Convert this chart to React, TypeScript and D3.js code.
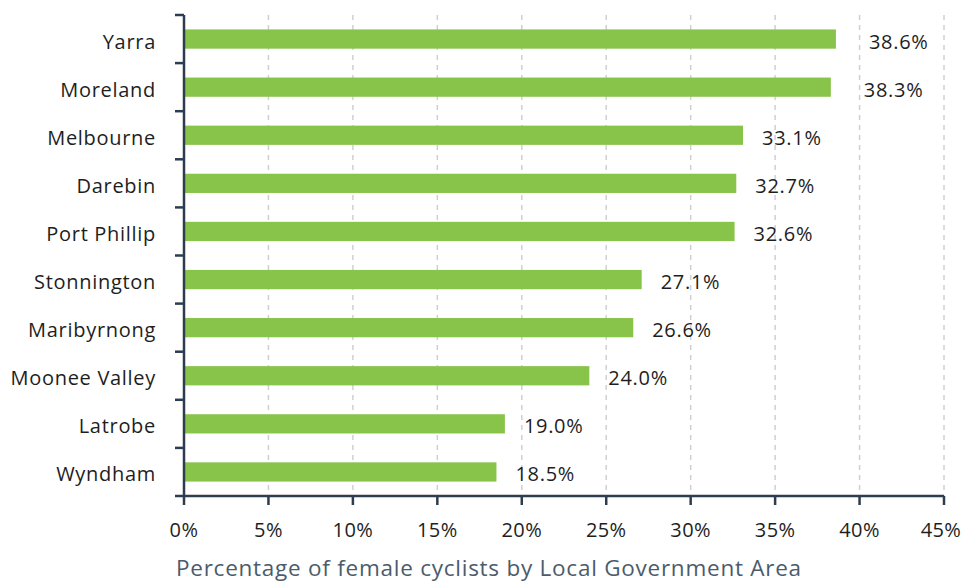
import React from "react";
import * as d3 from "d3";

const categories = ["Yarra", "Moreland", "Melbourne", "Darebin", "Port Phillip", "Stonnington", "Maribyrnong", "Moonee Valley", "Latrobe", "Wyndham"];
const values = [38.6, 38.3, 33.1, 32.7, 32.6, 27.1, 26.6, 24.0, 19.0, 18.5];
const xTicks = [0, 5, 10, 15, 20, 25, 30, 35, 40, 45];
const axisTitle = "Percentage of female cyclists by Local Government Area";

const W = 963;
const H = 582;
const left = 184;
const right = 944;
const top = 15;
const bottom = 496;
const FONT = "'Open Sans', Lato, sans-serif";
const AXIS = "#2d3c4e";
const LS = 0.7;

export default function App() {
  const x = d3.scaleLinear().domain([0, 45]).range([left, right]);
  const y = d3.scaleBand<string>().domain(categories).range([top, bottom]).paddingInner(0.6).paddingOuter(0.3);
  const bandEdges = d3.range(categories.length + 1).map((i) => top + i * ((bottom - top) / categories.length));

  return (
    <div style={{ position: "absolute", left: 0, top: 0, margin: 0 }}>
      <svg width={W} height={H} style={{ display: "block", background: "#fff" }} fontFamily={FONT}>
        {xTicks.filter((t) => t > 0).map((t) => (
          <line key={"g" + t} x1={x(t)} x2={x(t)} y1={top} y2={bottom} stroke="#cfcfd6" strokeWidth={1.5} strokeDasharray="5,5" />
        ))}
        {categories.map((c, i) => {
          const yy = (y(c) as number);
          const bh = y.bandwidth();
          const v = values[i];
          const dx = v > 35 ? 33 : 19;
          return (
            <g key={c}>
              <rect x={x(0)} y={yy} width={x(v) - x(0)} height={bh} fill="#88c34a" />
              <text x={x(0) - 28} y={yy + bh / 2 + 9.5} textAnchor="end" fontSize={20} letterSpacing={LS} fill="#1e1e1e">{c}</text>
              <text x={x(v) + dx} y={yy + bh / 2 + 9.5} textAnchor="start" fontSize={20} letterSpacing={LS} fill="#1e1e1e">{d3.format(".1f")(v) + "%"}</text>
            </g>
          );
        })}
        <line x1={left} x2={left} y1={top} y2={bottom} stroke={AXIS} strokeWidth={2.5} />
        {bandEdges.map((e, i) => (
          <line key={"yt" + i} x1={left - 9} x2={left} y1={e} y2={e} stroke={AXIS} strokeWidth={2.5} />
        ))}
        <line x1={left} x2={right} y1={bottom} y2={bottom} stroke={AXIS} strokeWidth={2.5} />
        {xTicks.map((t) => (
          <g key={"xt" + t}>
            <line x1={x(t)} x2={x(t)} y1={bottom} y2={bottom + 9} stroke={AXIS} strokeWidth={2.5} />
            <text x={x(t) - (t === 45 ? 3 : 0)} y={537} textAnchor="middle" fontSize={20} letterSpacing={0.4} fill="#1e1e1e">{t + "%"}</text>
          </g>
        ))}
        <text x={176} y={576} fontSize={22.5} letterSpacing={0.75} fill="#4b5c6c">{axisTitle}</text>
      </svg>
    </div>
  );
}
